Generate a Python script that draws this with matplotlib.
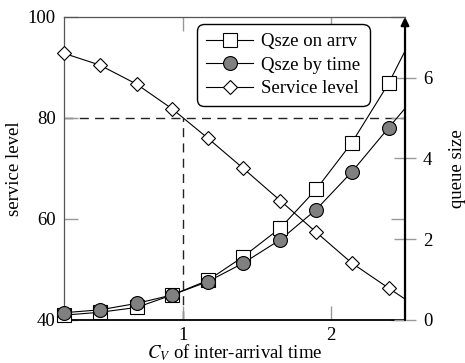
import matplotlib
matplotlib.use("Agg")
import matplotlib.pyplot as plt
from matplotlib.lines import Line2D

plt.rcParams['font.family'] = ['Liberation Serif', 'DejaVu Serif']
plt.rcParams['mathtext.fontset'] = 'stix'
plt.rcParams['font.size'] = 13.5

# coefficient of variation of inter-arrival time
cv = [0.2, 0.44, 0.69, 0.93, 1.17, 1.41, 1.66, 1.9, 2.14, 2.39, 2.63]
service_level = [92.8, 90.5, 86.7, 81.8, 76.0, 70.0, 63.6, 57.4, 51.3, 46.3, 41.6]
qsize_arrival = [0.12, 0.19, 0.31, 0.62, 0.98, 1.57, 2.28, 3.23, 4.38, 5.86, 7.6]
qsize_time = [0.18, 0.25, 0.41, 0.62, 0.95, 1.41, 1.99, 2.73, 3.66, 4.76, 5.8]
n_shown = 10  # last sample lies past the x range, only its line segment shows

fig = plt.figure(figsize=(4.65, 3.63), dpi=100)
ax = fig.add_axes([0.1376, 0.1185, 0.7334, 0.8347])
ax2 = ax.twinx()

ax.set_xlim(0.2, 2.5)
ax.set_ylim(40, 100)
ax2.set_ylim(0, 7.5)

lw = 0.8
sq = dict(marker='s', ms=10, mfc='white', mec='black', mew=lw)
ci = dict(marker='o', ms=10, mfc='#808080', mec='black', mew=lw)
di = dict(marker='D', ms=7.5, mfc='white', mec='black', mew=lw)

# reference lines at 80 % service level
ax.axhline(80, color='#222222', lw=1.0, ls=(0, (6.5, 4.5)), zorder=1)
ax.plot([1, 1], [40, 80], color='#222222', lw=1.0, ls=(0, (6.5, 4.5)), zorder=1)

ax.plot(cv, service_level, color='black', lw=lw, zorder=3)
ax.plot(cv[:n_shown], service_level[:n_shown], ls='none', clip_on=False, zorder=4, **di)

ax2.plot(cv, qsize_arrival, color='black', lw=lw, zorder=3)
ax2.plot(cv[:n_shown], qsize_arrival[:n_shown], ls='none', clip_on=False, zorder=4, **sq)
ax2.plot(cv, qsize_time, color='black', lw=lw, zorder=3)
ax2.plot(cv[:n_shown], qsize_time[:n_shown], ls='none', clip_on=False, zorder=4, **ci)

# axes styling
ax.set_xticks([1, 2])
ax.set_yticks([40, 60, 80, 100])
ax.tick_params(axis='both', direction='in', length=10, width=1.0, color='#999999',
               top=True, right=True, labelright=False, labelsize=13.5)
ax.tick_params(axis='y', pad=6)
ax.tick_params(axis='x', pad=5)
for side in ['left', 'top']:
    ax.spines[side].set_color('#555555')
    ax.spines[side].set_linewidth(0.9)
ax.spines['bottom'].set_color('black')
ax.spines['bottom'].set_linewidth(1.3)
ax.spines['right'].set_visible(False)

ax2.set_yticks([0, 2, 4, 6])
ax2.tick_params(axis='y', direction='inout', length=16, width=1.0, color='#999999',
                pad=5, labelsize=13.5)
for side in ['left', 'top', 'bottom']:
    ax2.spines[side].set_visible(False)
ax2.spines['right'].set_visible(False)
ax2.annotate('', xy=(1, 1.0), xytext=(1, 0), xycoords='axes fraction',
             arrowprops=dict(arrowstyle='-|>', color='black', lw=1.6,
                             mutation_scale=12, shrinkA=0, shrinkB=0))

ax.set_xlabel('$C_V$ of inter-arrival time', labelpad=-1)
ax.set_ylabel('service level', labelpad=3)
ax2.set_ylabel('queue size', labelpad=12)

handles = [
    Line2D([], [], color='black', lw=lw, **sq),
    Line2D([], [], color='black', lw=lw, **ci),
    Line2D([], [], color='black', lw=lw, **di),
]
labels = ['Qsze on arrv', 'Qsze by time', 'Service level']
leg = ax2.legend(handles, labels, loc='upper right', bbox_to_anchor=(0.897, 0.977),
                 fancybox=True, framealpha=1, edgecolor='black', fontsize=13.5,
                 handlelength=2.5, handletextpad=0.45, labelspacing=0.33,
                 borderpad=0.5, borderaxespad=0)
leg.get_frame().set_linewidth(1.0)
leg.get_frame().set_boxstyle('round', pad=0, rounding_size=0.4)
leg.set_zorder(10)

fig.savefig('out.png', dpi=100)
